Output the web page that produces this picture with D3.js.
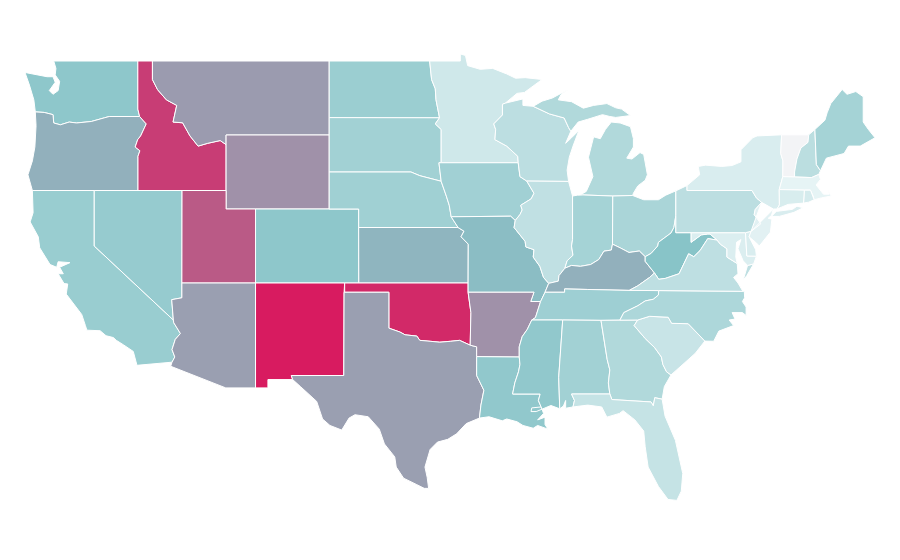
<!DOCTYPE html>
<html><head><meta charset="utf-8"><title>US states choropleth</title>
<style>html,body{margin:0;background:#fff}svg{display:block}</style>
<script src="https://cdn.jsdelivr.net/npm/d3@7"></script></head><body>
<svg id="map" width="900" height="560"></svg>
<script>
// shared borders [lon, lat]
const stCroix=[[-92.1,46.72],[-92.29,46.66],[-92.29,46.08],[-92.88,45.6],[-92.75,45.3],[-92.8,44.75],[-92.0,44.4],[-91.25,43.85],[-91.22,43.5]];
const missA=[[-91.22,43.5],[-91.1,42.75],[-90.64,42.51]];
const missB=[[-90.64,42.51],[-90.15,41.85],[-90.34,41.55],[-91.05,41.2],[-90.95,40.95],[-91.1,40.7],[-91.42,40.38]];
const missC=[[-91.42,40.38],[-91.5,40.0],[-90.75,39.25],[-90.7,38.95],[-90.15,38.8],[-90.2,38.4],[-89.75,37.9],[-89.5,37.3],[-89.15,36.98]];
const missD=[[-89.15,36.98],[-89.4,36.5]];
const missE=[[-89.4,36.5],[-89.7,36.0]];
const missF=[[-89.7,36.0],[-90.05,35.13],[-90.3,35.0]];
const missG=[[-90.3,35.0],[-90.6,34.5],[-90.95,34.1],[-91.15,33.55],[-91.15,33.0]];
const missH=[[-91.15,33.0],[-91.1,32.6],[-91.2,32.2],[-91.45,31.6],[-91.6,31.0]];
const mo1=[[-96.45,42.5],[-96.1,41.7],[-95.9,41.2],[-95.77,40.58]];
const mo2=[[-95.77,40.58],[-95.3,40.0]];
const mo3=[[-95.3,40.0],[-94.9,39.8],[-95.1,39.5],[-94.61,39.1]];
const ohioA=[[-80.52,40.64],[-80.65,40.0],[-80.85,39.7],[-81.7,39.2],[-81.75,39.0],[-82.2,38.6],[-82.6,38.42]];
const ohioB=[[-82.6,38.42],[-83.0,38.73],[-83.7,38.65],[-84.3,38.9],[-84.82,39.1]];
const ohioC=[[-84.82,39.1],[-84.9,38.78],[-85.4,38.72],[-85.75,38.27],[-86.3,38.0],[-87.0,37.9],[-87.6,37.95],[-88.05,37.8]];
const ohioD=[[-88.05,37.8],[-88.45,37.4],[-88.5,37.1],[-89.15,36.98]];
const wabash=[[-87.53,41.7],[-87.53,39.35],[-87.6,39.0],[-87.5,38.5],[-87.9,38.2],[-88.05,37.8]];
const redRiver=[[-100,34.56],[-99.25,34.35],[-98.9,34.2],[-98.1,34.13],[-97.9,33.9],[-97.2,33.85],[-96.55,33.8],[-95.8,33.85],[-95.2,33.9],[-94.48,33.64]];
const snake=[[-117.03,42],[-117.03,43.85],[-116.9,44.15],[-117.22,44.35],[-117.05,44.75],[-116.85,44.95],[-116.47,45.6],[-116.92,46.0]];
const columbia=[[-116.92,46.0],[-118.98,46.0],[-119.3,45.93],[-120.2,45.73],[-121.2,45.65],[-121.7,45.7],[-122.3,45.55],[-122.75,45.65],[-122.8,46.1],[-123.4,46.22],[-124.0,46.25]];
const bitterroot=[[-116.05,49],[-116.05,48],[-115.7,47.45],[-115.1,46.9],[-114.4,46.6],[-114.65,45.7],[-114.0,45.66],[-113.5,44.95],[-112.95,44.4],[-112.3,44.55],[-111.45,44.7],[-111.05,44.48]];
const azCo=[[-114.05,36.2],[-114.74,36.1],[-114.63,35.0]];
const azCa=[[-114.63,35.0],[-114.6,34.85],[-114.15,34.27],[-114.5,33.95],[-114.72,33.4],[-114.53,33.0],[-114.72,32.72]];
const mnDak=[[-97.23,49],[-97.1,48],[-96.85,47.5],[-96.8,46.9],[-96.56,45.93]];
const mnSd=[[-96.56,45.93],[-96.85,45.6],[-96.45,45.3],[-96.45,43.5]];
const iaSd=[[-96.45,43.5],[-96.6,43.5],[-96.45,42.5]];
const neSd=[[-104.05,43],[-98.5,43],[-97.9,42.8],[-96.45,42.5]];
const wabLake=[[-87.8,42.49],[-87.53,41.7]];
const paNy=[[-79.76,42.27],[-79.76,42.0],[-75.35,42.0],[-75.05,41.6],[-74.7,41.36]];
const paNj=[[-74.7,41.36],[-75.13,40.97],[-75.2,40.7],[-74.75,40.2],[-75.4,39.8]];
const vtNh=[[-71.5,45.01],[-71.55,44.6],[-72.03,44.3],[-72.3,43.7],[-72.46,43.0],[-72.46,42.73]];
const nyNe=[[-73.5,42.05],[-73.26,42.75]];
const nyVt=[[-73.26,42.75],[-73.25,43.6],[-73.4,44.0],[-73.34,45.01]];
const mdWv=[[-79.48,39.72],[-79.48,39.2],[-78.8,39.6],[-78.35,39.65],[-78.2,39.65],[-77.72,39.32]];
const wvVa=[[-77.72,39.32],[-78.35,39.4],[-78.87,38.76],[-79.3,38.42],[-79.65,38.58],[-80.3,37.5],[-81.23,37.25],[-81.68,37.2],[-81.97,37.54]];
const mdVa=[[-77.72,39.32],[-77.5,39.1],[-77.05,38.85],[-77.05,38.4],[-76.35,38.05]];
const kyVa=[[-81.97,37.54],[-82.3,37.3],[-83.1,36.85],[-83.68,36.6]];
const kyWv=[[-82.6,38.42],[-82.6,38.17],[-81.97,37.54]];
const kyTn=[[-83.68,36.6],[-86.5,36.65],[-88.07,36.68],[-88.07,36.5],[-89.4,36.5]];
const tnNc=[[-81.68,36.59],[-81.7,36.35],[-82.05,36.12],[-82.6,36.03],[-83.1,35.77],[-84.05,35.4],[-84.32,34.99]];
const ncSc=[[-83.11,35.0],[-82.3,35.2],[-81.04,35.15],[-80.8,34.82],[-79.68,34.8],[-78.55,33.86]];
const gaSc=[[-80.85,32.03],[-81.15,32.2],[-81.4,32.6],[-81.5,33.0],[-81.95,33.5],[-82.6,34.0],[-83.35,34.7],[-83.11,35.0]];
const gaAl=[[-85.6,34.98],[-85.18,32.87],[-85.0,32.3],[-85.1,31.6],[-85.0,31.0]];
const gaFl=[[-85.0,31.0],[-84.86,30.7],[-82.2,30.57],[-82.05,30.36],[-81.95,30.8],[-81.45,30.72]];
const alFl=[[-85.0,31.0],[-87.6,31.0],[-87.4,30.65],[-87.5,30.3]];
const laMs=[[-91.6,31.0],[-89.73,31.0],[-89.85,30.65],[-89.6,30.18]];
const sabine=[[-94.04,33.02],[-94.04,32.0],[-93.55,31.2],[-93.75,30.4],[-93.85,29.7]];
const wiMi=[[-90.2,46.55],[-89.1,46.14],[-88.1,45.92],[-87.8,45.4],[-87.65,45.2]];
const rev=a=>a.slice().reverse();

// state outlines, each a list of rings
const WA=[[...rev(columbia),[-117.04,46.4],[-117.04,49],[-122.75,49],[-122.6,48.6],[-122.65,48.25],[-122.35,47.9],[-122.45,47.4],[-122.8,47.2],[-123.05,47.4],[-122.65,47.85],[-122.8,48.15],[-123.2,48.15],[-124.7,48.38],[-124.4,47.7],[-124.1,46.9]]];
const OR=[[[-124.2,42],[-120,42],...snake,...columbia,[-123.95,45.5],[-124.03,44.35],[-124.2,43.6],[-124.5,42.85]]];
const CA=[[[-124.2,42],[-120,42],[-120,39],...azCa,[-117.1,32.55],[-117.35,33.3],[-118.0,33.65],[-118.5,33.9],[-118.7,34.05],[-119.2,34.15],[-119.6,34.42],[-120.5,34.45],[-120.6,34.7],[-120.85,35.3],[-121.9,36.4],[-121.8,36.95],[-122.05,36.97],[-122.45,37.5],[-122.1,37.5],[-122.35,37.85],[-121.65,38.1],[-122.45,38.15],[-122.55,37.85],[-123.0,38.0],[-123.7,38.9],[-123.8,39.5],[-124.35,40.3],[-124.15,40.8]]];
const NV=[[[-120,42],[-114.04,42],...azCo,[-120,39]]];
const ID=[[[-117.04,49],...bitterroot,[-111.05,42],[-114.04,42],...snake,[-117.04,46.4]]];
const MT=[[[-116.05,49],[-104.05,49],[-104.05,45],[-111.05,45],...rev(bitterroot)]];
const WY=[[[-111.05,45],[-104.05,45],[-104.05,41],[-111.05,41]]];
const UT=[[[-114.04,42],[-111.05,42],[-111.05,41],[-109.05,41],[-109.05,37],[-114.05,37]]];
const CO=[[[-109.05,41],[-102.05,41],[-102.05,37],[-109.05,37]]];
const AZ=[[[-114.05,37],[-109.05,37],[-109.05,31.33],[-111.07,31.33],[-114.81,32.5],...rev(azCa),...rev(azCo)]];
const NM=[[[-109.05,37],[-103,37],[-103.04,36.5],[-103.06,32],[-106.62,32],[-106.53,31.78],[-108.21,31.78],[-108.21,31.33],[-109.05,31.33]]];
const ND=[[[-104.05,49],...mnDak,[-104.05,45.94]]];
const SD=[[[-104.05,45.94],...mnSd,...iaSd,...rev(neSd)]];
const NE=[[...neSd,...mo1,...mo2,[-102.05,40],[-102.05,41],[-104.05,41]]];
const KS=[[[-102.05,40],...mo3,[-94.62,37],[-102.04,37]]];
const OK=[[[-103,37],[-94.62,37],[-94.62,36.5],[-94.43,35.4],...rev(redRiver),[-100,36.5],[-103,36.5]]];
const TX=[[[-103.04,36.5],[-100,36.5],...redRiver,[-94.04,33.55],...sabine,[-94.75,29.4],[-95.4,28.85],[-96.0,28.55],[-96.7,28.4],[-97.2,28.0],[-97.55,27.05],[-97.4,26.5],[-97.3,25.9],[-97.6,25.9],[-98.1,26.1],[-99.0,26.45],[-99.5,27.05],[-99.6,27.6],[-100.3,28.3],[-100.65,29.1],[-101.4,29.77],[-102.3,29.88],[-102.7,29.7],[-103.2,29.05],[-104.0,29.3],[-104.5,29.65],[-104.9,30.6],[-106.0,31.4],[-106.53,31.78],[-106.62,32],[-103.06,32]]];
const MN=[[[-97.23,49],[-95.15,49],[-95.15,49.38],[-94.8,49.3],[-94.65,48.75],[-93.8,48.55],[-92.95,48.6],[-92.0,48.3],[-91.4,48.07],[-90.75,48.1],[-89.6,48.0],[-90.8,47.3],[-91.3,47.25],...stCroix,[-96.45,43.5],...rev(mnSd),...rev(mnDak)]];
const IA=[[[-96.45,43.5],[-91.22,43.5],...missA,...missB,[-91.73,40.61],[-95.77,40.58],...rev(mo1),...rev(iaSd)]];
const MO=[[[-95.77,40.58],[-91.73,40.61],...missC,...missD,...missE,[-90.37,36.0],[-90.15,36.5],[-94.62,36.5],[-94.62,37],[-94.61,39.1],...rev(mo3),...rev(mo2)]];
const AR=[[[-94.62,36.5],[-90.15,36.5],[-90.37,36.0],...missF,...missG,[-94.04,33.02],[-94.04,33.55],[-94.48,33.64],[-94.43,35.4]]];
const LA=[[[-94.04,33.02],...missH,...laMs,[-90.0,30.05],[-90.35,30.05],[-90.3,30.25],[-89.65,30.3],[-89.5,29.95],[-89.9,29.6],[-89.4,29.75],[-89.4,29.35],[-89.2,29.1],[-89.9,29.3],[-90.2,29.15],[-90.9,29.3],[-91.3,29.5],[-92.0,29.65],[-92.3,29.55],[-93.2,29.77],...rev(sabine)]];
const WI=[[[-92.1,46.72],[-90.9,46.95],[-90.9,46.6],...wiMi,[-88.0,44.55],[-87.6,44.85],[-87.1,45.25],[-87.5,44.4],[-87.75,43.8],[-87.9,43.1],[-87.8,42.49],[-90.64,42.51],...rev(missA),...rev(stCroix)]];
const MI=[[...wiMi,[-87.15,45.7],[-86.5,45.85],[-85.5,46.1],[-85.0,46.0],[-84.6,45.95],[-83.6,46.05],[-84.2,46.4],[-84.6,46.47],[-85.2,46.7],[-86.1,46.6],[-86.8,46.45],[-87.6,46.8],[-88.5,46.9],[-88.3,47.2],[-87.85,47.45],[-88.9,47.0],[-89.6,46.83]],
[[-86.82,41.76],[-87.25,41.65],[-86.6,41.95],[-86.15,42.75],[-86.45,43.8],[-86.1,44.9],[-85.65,44.8],[-85.3,45.3],[-84.9,45.7],[-84.3,45.65],[-83.6,45.45],[-83.4,44.8],[-83.4,44.35],[-83.85,43.75],[-83.5,43.7],[-82.95,44.05],[-82.7,43.95],[-82.45,42.85],[-82.6,42.55],[-83.1,42.25],[-83.4,41.85],[-83.45,41.73],[-84.8,41.7]]];
const IL=[[[-90.64,42.51],...wabLake,...wabash,...ohioD,...rev(missC),...rev(missB)]];
const IN=[[[-87.53,41.7],[-87.2,41.75],[-86.82,41.76],[-84.8,41.7],[-84.82,39.1],...ohioC,...rev(wabash)]];
const OH=[[[-84.8,41.7],[-83.45,41.73],[-82.7,41.5],[-81.7,41.5],[-81.2,41.75],[-80.52,41.98],...ohioA,...ohioB]];
const KY=[[[-89.15,36.98],...rev(ohioD),...rev(ohioC),...rev(ohioB),...kyWv,...kyVa,...kyTn]];
const WV=[[...ohioA,...kyWv,...rev(wvVa),...rev(mdWv),[-80.52,39.72]]];
const TN=[[[-89.4,36.5],...rev(kyTn),[-81.68,36.59],...tnNc,[-85.6,34.98],[-88.2,35],...rev(missF),...rev(missE)]];
const MS=[[[-90.3,35],[-88.2,35],[-88.47,31.9],[-88.4,30.2],[-89.0,30.38],...rev(laMs),...rev(missH),...rev(missG)]];
const AL=[[[-88.2,35],...gaAl,...alFl,[-88.0,30.23],[-88.0,30.65],[-88.15,30.35],[-88.4,30.2],[-88.47,31.9]]];
const GA=[[...gaAl.slice(0,1),[-84.32,34.99],...rev(gaSc),[-81.3,31.4],...rev(gaFl),...rev(gaAl)]];
const FL=[[...alFl,[-86.5,30.4],[-85.55,30.3],[-85.2,29.75],[-84.35,29.95],[-84.1,30.1],[-83.3,29.6],[-82.7,29.0],[-82.6,28.15],[-82.4,27.05],[-81.7,26.0],[-81.05,25.3],[-80.45,25.25],[-80.15,25.75],[-80.05,26.7],[-80.55,28.5],[-81.25,29.8],...rev(gaFl)]];
const SC=[[...ncSc,[-79.2,33.2],[-79.9,32.7],...gaSc]];
const NC=[[[-75.87,36.55],[-81.68,36.59],...tnNc,...ncSc,[-77.95,33.85],[-77.6,34.4],[-76.6,34.7],[-76.9,35.0],[-76.5,35.05],[-76.7,35.4],[-76.0,35.4],[-75.75,35.25],[-75.75,35.7],[-76.0,36.0],[-75.85,36.2]]];
const VA=[[...mdVa,[-76.3,37.5],[-76.6,37.3],[-76.3,37.0],[-75.97,36.55],[-81.68,36.59],[-83.68,36.6],...rev(kyVa),...rev(wvVa)],
[[-75.24,38.03],[-75.65,37.95],[-75.95,37.15],[-75.7,37.4]]];
const MD=[[[-79.48,39.72],[-75.79,39.72],[-75.7,38.46],[-75.05,38.45],[-75.24,38.03],[-75.65,37.95],[-75.95,38.2],[-76.3,38.85],[-76.1,39.35],[-76.4,39.2],[-76.45,38.4],...rev(mdVa),...rev(mdWv)]];
const DE=[[[-75.79,39.72],[-75.4,39.8],[-75.55,39.5],[-75.1,38.8],[-75.05,38.45],[-75.7,38.46]]];
const PA=[[[-80.52,41.98],...paNy,...paNj,[-75.79,39.72],[-80.52,39.72],[-80.52,40.64]]];
const NJ=[[...rev(paNj),[-75.55,39.5],[-75.1,39.2],[-74.85,39.0],[-74.1,39.75],[-74.0,40.45],[-74.25,40.5],[-74.03,40.65],[-73.9,41.0]]];
const NY=[[...paNy,[-73.9,41.0],[-73.65,41.0],[-73.49,41.22],...nyNe,...nyVt,[-75.0,44.95],[-75.3,44.85],[-76.1,44.2],[-76.1,43.55],[-76.7,43.35],[-77.4,43.3],[-78.5,43.37],[-79.0,43.3],[-78.9,42.85]],
[[-74.03,40.6],[-73.7,40.87],[-72.6,40.98],[-72.3,41.15],[-71.87,41.07],[-72.5,40.82],[-73.5,40.6]]];
const VT=[[...vtNh,...nyVt]];
const NH=[[[-71.5,45.01],[-71.08,45.3],[-70.98,43.4],[-70.7,43.07],[-70.82,42.87],[-71.3,42.7],...rev(vtNh)]];
const ME=[[[-71.08,45.3],[-70.4,45.8],[-70.25,46.2],[-70.0,46.7],[-69.23,47.46],[-68.9,47.2],[-68.3,47.35],[-67.8,47.07],[-67.8,45.7],[-67.45,45.3],[-67.0,44.85],[-68.0,44.4],[-68.8,44.4],[-69.1,44.0],[-70.3,43.75],[-70.7,43.07],[-70.98,43.4]]];
const MA=[[[-73.5,42.05],[-73.26,42.75],[-72.46,42.73],[-71.3,42.7],[-70.82,42.87],[-70.7,42.6],[-71.0,42.3],[-70.65,41.95],[-70.5,41.8],[-70.1,41.8],[-70.2,42.05],[-69.98,41.7],[-70.65,41.6],[-71.13,41.5],[-71.2,41.7],[-71.38,42.02],[-71.8,42.02]]];
const RI=[[[-71.8,42.02],[-71.38,42.02],[-71.13,41.5],[-71.5,41.37],[-71.85,41.32]]];
const CT=[[[-73.5,42.05],[-71.8,42.02],[-71.85,41.32],[-72.9,41.25],[-73.65,41.0],[-73.49,41.22]]];

const stateNames=["Washington","Oregon","California","Nevada","Idaho","Montana","Wyoming","Utah","Colorado","Arizona","New Mexico","North Dakota","South Dakota","Nebraska","Kansas","Oklahoma","Texas","Minnesota","Iowa","Missouri","Arkansas","Louisiana","Wisconsin","Michigan","Illinois","Indiana","Ohio","Kentucky","West Virginia","Tennessee","Mississippi","Alabama","Georgia","Florida","South Carolina","North Carolina","Virginia","Maryland","Delaware","Pennsylvania","New Jersey","New York","Vermont","New Hampshire","Maine","Massachusetts","Rhode Island","Connecticut"];
const stateRings=[WA,OR,CA,NV,ID,MT,WY,UT,CO,AZ,NM,ND,SD,NE,KS,OK,TX,MN,IA,MO,AR,LA,WI,MI,IL,IN,OH,KY,WV,TN,MS,AL,GA,FL,SC,NC,VA,MD,DE,PA,NJ,NY,VT,NH,ME,MA,RI,CT];
const stateValues=[47,56,42,43.5,90,62,65,81.5,47,61,100,41,38,39,54.5,96,61,17,38.5,52,65,46,25.5,31,24,36.5,34,56,50,39.5,46,38,31,21.5,20,32.5,25,11,12,25.5,8,12,null,26,36.5,6,14,12.5];
const colorStops=["#f3fafb","#88c4c8","#d81b60"];
const valueStops=[0,50,100];
const noValueColor="#f3f4f6";
const lonDomain=[-124.7,-67], latDomain=[49,25];

const x=d3.scaleLinear().domain(lonDomain).range([25,875]);
const y=d3.scaleLinear().domain(latDomain).range([61,505]);
const color=d3.scaleLinear().domain(valueStops).range(colorStops).interpolate(d3.interpolateRgb);
const path=d3.geoPath(d3.geoTransform({point(a,b){this.stream.point(x(a),y(b));}}));
const features=stateNames.map((name,i)=>({type:"Feature",properties:{name,value:stateValues[i]},
  geometry:{type:"MultiPolygon",coordinates:stateRings[i].map(r=>[[...r,r[0]]])}}));
d3.select("#map").selectAll("path").data(features).join("path")
  .attr("d",path).attr("fill",d=>d.properties.value==null?noValueColor:color(d.properties.value))
  .attr("stroke","#fff").attr("stroke-width",1).attr("stroke-linejoin","round")
  .append("title").text(d=>d.properties.name);
</script></body></html>
